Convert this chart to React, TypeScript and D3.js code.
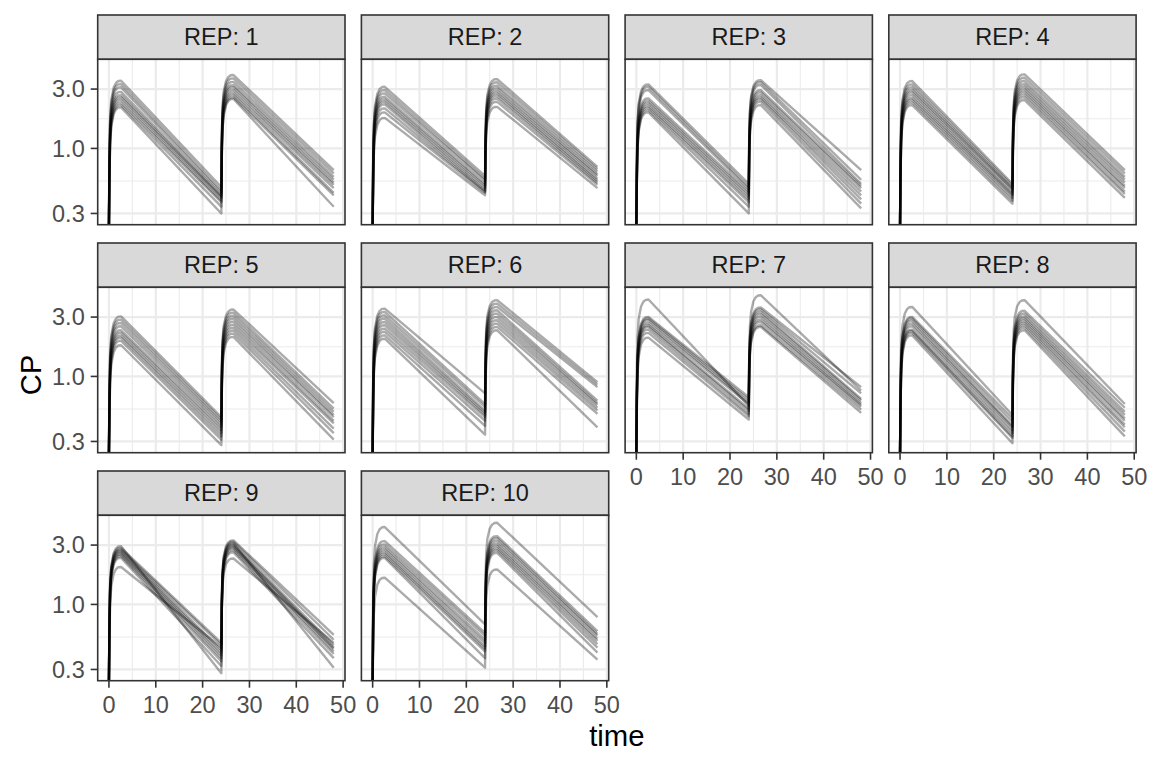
import * as d3 from "d3";

// replicate panels
const reps = [1, 2, 3, 4, 5, 6, 7, 8, 9, 10];

// CP, one row per REP, one entry per individual
const peakDose1 = [
  [3.5, 3.29, 3.1, 2.85, 2.68, 2.57, 2.45, 2.33, 2.23, 2.14],
  [3.13, 2.94, 2.77, 2.6, 2.48, 2.37, 2.26, 2.1, 1.95, 1.76],
  [3.27, 3.13, 2.94, 2.52, 2.4, 2.3, 2.2, 2.12, 2.03, 1.95],
  [3.48, 3.27, 3.1, 2.94, 2.82, 2.68, 2.55, 2.45, 2.34, 2.23],
  [3.04, 2.86, 2.69, 2.53, 2.35, 2.24, 2.13, 2.04, 1.93, 1.78],
  [3.51, 3.3, 3.1, 2.92, 2.74, 2.58, 2.42, 2.28, 2.14, 2.01],
  [4.15, 3.01, 2.92, 2.83, 2.69, 2.58, 2.5, 2.38, 2.24, 2.05],
  [3.62, 3.01, 2.92, 2.8, 2.66, 2.53, 2.38, 2.32, 2.24, 2.14],
  [2.94, 2.85, 2.77, 2.72, 2.65, 2.59, 2.52, 2.45, 2.37, 2.0],
  [4.19, 3.23, 3.04, 2.89, 2.77, 2.65, 2.55, 2.45, 2.37, 1.64],
];
const troughDose1 = [
  [0.49, 0.46, 0.44, 0.42, 0.41, 0.4, 0.38, 0.37, 0.34, 0.3],
  [0.6, 0.57, 0.55, 0.52, 0.5, 0.48, 0.46, 0.45, 0.44, 0.42],
  [0.52, 0.49, 0.47, 0.45, 0.43, 0.41, 0.39, 0.37, 0.34, 0.3],
  [0.52, 0.5, 0.48, 0.47, 0.45, 0.43, 0.42, 0.4, 0.38, 0.36],
  [0.47, 0.45, 0.43, 0.41, 0.39, 0.37, 0.35, 0.33, 0.31, 0.28],
  [0.73, 0.6, 0.57, 0.53, 0.51, 0.49, 0.47, 0.44, 0.4, 0.34],
  [0.58, 0.68, 0.65, 0.62, 0.6, 0.55, 0.53, 0.5, 0.48, 0.45],
  [0.49, 0.46, 0.43, 0.4, 0.39, 0.37, 0.35, 0.33, 0.32, 0.29],
  [0.28, 0.49, 0.47, 0.43, 0.41, 0.39, 0.37, 0.35, 0.32, 0.45],
  [0.69, 0.59, 0.56, 0.52, 0.49, 0.46, 0.44, 0.42, 0.37, 0.31],
];
const peakDose2 = [
  [3.89, 3.66, 3.43, 3.23, 3.1, 2.94, 2.8, 2.68, 2.57, 2.5],
  [3.61, 3.4, 3.19, 3.04, 2.89, 2.77, 2.65, 2.52, 2.37, 2.16],
  [3.54, 3.4, 3.23, 2.94, 2.82, 2.68, 2.57, 2.48, 2.37, 2.23],
  [3.94, 3.7, 3.48, 3.29, 3.13, 2.98, 2.85, 2.72, 2.59, 2.45],
  [3.45, 3.26, 3.08, 2.92, 2.76, 2.61, 2.47, 2.34, 2.21, 2.08],
  [4.1, 3.85, 3.62, 3.4, 3.2, 3.01, 2.83, 2.66, 2.5, 2.35],
  [4.49, 3.58, 3.45, 3.3, 3.16, 3.01, 2.86, 2.74, 2.58, 2.5],
  [4.1, 3.37, 3.2, 3.04, 2.92, 2.8, 2.69, 2.58, 2.47, 2.35],
  [3.11, 3.27, 3.19, 3.04, 2.96, 2.89, 2.82, 2.72, 2.62, 2.34],
  [4.53, 3.54, 3.4, 3.23, 3.07, 2.94, 2.82, 2.72, 2.6, 1.91],
];
const valueAt48 = [
  [0.67, 0.63, 0.59, 0.56, 0.53, 0.51, 0.48, 0.44, 0.42, 0.34],
  [0.71, 0.68, 0.65, 0.62, 0.6, 0.57, 0.55, 0.53, 0.51, 0.48],
  [0.67, 0.56, 0.52, 0.5, 0.48, 0.45, 0.42, 0.39, 0.36, 0.33],
  [0.67, 0.63, 0.59, 0.56, 0.53, 0.5, 0.48, 0.45, 0.43, 0.4],
  [0.61, 0.55, 0.52, 0.49, 0.47, 0.44, 0.42, 0.38, 0.35, 0.31],
  [0.9, 0.86, 0.82, 0.64, 0.61, 0.59, 0.56, 0.53, 0.5, 0.39],
  [0.77, 0.82, 0.73, 0.66, 0.64, 0.61, 0.59, 0.57, 0.54, 0.51],
  [0.6, 0.56, 0.52, 0.49, 0.46, 0.44, 0.41, 0.39, 0.36, 0.33],
  [0.31, 0.57, 0.52, 0.47, 0.45, 0.44, 0.42, 0.4, 0.37, 0.49],
  [0.79, 0.61, 0.58, 0.56, 0.53, 0.51, 0.48, 0.45, 0.41, 0.36],
];

// dosing and the shape of the absorption rise after each dose
const doseTimes = [0, 24];
const endTime = 48;
const riseHours = [0, 0.1, 0.25, 0.5, 1, 1.5, 2, 2.6];
const riseShare = [0, 0.25, 0.5, 0.7, 0.88, 0.96, 0.995, 1];

const timeTicks = [0, 10, 20, 30, 40, 50];
const cpTicks = [0.3, 1, 3];
const cpTickLabels = ["0.3", "1.0", "3.0"];

const W = 1152;
const H = 768;
const nCol = 4;
const panelX0 = 97.7;
const colStep = 263.7;
const panelW = 247.3;
const stripY0 = 15;
const rowStep = 228;
const stripH = 44.3;
const panelH = 165.4;
const font = "'Liberation Sans', Arial, Helvetica, sans-serif";

function curvePoints(r: number, i: number): [number, number][] {
  const p1 = peakDose1[r][i];
  const t1 = troughDose1[r][i];
  const p2 = peakDose2[r][i];
  const pts: [number, number][] = riseHours.map((h, k) => [doseTimes[0] + h, p1 * riseShare[k]]);
  pts.push([doseTimes[1], t1]);
  riseHours.slice(1).forEach((h, k) => {
    pts.push([doseTimes[1] + h, t1 + (p2 - t1) * riseShare[k + 1]]);
  });
  pts.push([endTime, valueAt48[r][i]]);
  return pts;
}

export default function App() {
  const xPad = (endTime - doseTimes[0]) * 0.05;
  const x = d3.scaleLinear().domain([doseTimes[0] - xPad, endTime + xPad]).range([0, panelW]);

  const lows = [...troughDose1.flat(), ...valueAt48.flat()];
  const highs = [...peakDose1.flat(), ...peakDose2.flat()];
  const lo = Math.log10(d3.min(lows) as number);
  const hi = Math.log10(d3.max(highs) as number);
  const yPad = (hi - lo) * 0.05;
  const y = d3.scaleLog().domain([10 ** (lo - yPad), 10 ** (hi + yPad)]).range([panelH, 0]);

  const line = d3
    .line<[number, number]>()
    .x((d) => x(d[0]))
    .y((d) => (d[1] > 0 ? y(d[1]) : panelH));

  const xMinor = timeTicks.slice(1).map((t, k) => (t + timeTicks[k]) / 2);
  const yMinor = cpTicks.slice(1).map((t, k) => Math.sqrt(t * cpTicks[k]));

  const lastRight = panelX0 + (nCol - 1) * colStep + panelW;
  const nRows = Math.ceil(reps.length / nCol);
  const lastBottom = stripY0 + (nRows - 1) * rowStep + stripH + panelH;

  return (
    <svg
      width={W}
      height={H}
      style={{ position: "absolute", left: 0, top: 0, background: "white" }}
      fontFamily={font}
    >
      <defs>
        <clipPath id="panel-clip">
          <rect x={0} y={0} width={panelW} height={panelH} />
        </clipPath>
      </defs>
      {reps.map((rep, r) => {
        const col = r % nCol;
        const row = Math.floor(r / nCol);
        const left = panelX0 + col * colStep;
        const top = stripY0 + row * rowStep;
        const hasXAxis = r + nCol >= reps.length;
        const hasYAxis = col === 0;
        return (
          <g key={rep} transform={`translate(${left},${top})`}>
            <rect x={0} y={0} width={panelW} height={stripH} fill="#d9d9d9" stroke="#333333" strokeWidth={1.6} />
            <text
              x={panelW / 2}
              y={stripH / 2}
              dy="0.35em"
              textAnchor="middle"
              fontSize={23.5}
              fill="#1a1a1a"
            >
              {`REP: ${rep}`}
            </text>
            <g transform={`translate(0,${stripH})`}>
              <rect x={0} y={0} width={panelW} height={panelH} fill="white" />
              {yMinor.map((v) => (
                <line key={`ym${v}`} x1={0} x2={panelW} y1={y(v)} y2={y(v)} stroke="#ebebeb" strokeWidth={1.1} />
              ))}
              {xMinor.map((t) => (
                <line key={`xm${t}`} x1={x(t)} x2={x(t)} y1={0} y2={panelH} stroke="#ebebeb" strokeWidth={1.1} />
              ))}
              {cpTicks.map((v) => (
                <line key={`yM${v}`} x1={0} x2={panelW} y1={y(v)} y2={y(v)} stroke="#ebebeb" strokeWidth={2.2} />
              ))}
              {timeTicks.map((t) => (
                <line key={`xM${t}`} x1={x(t)} x2={x(t)} y1={0} y2={panelH} stroke="#ebebeb" strokeWidth={2.2} />
              ))}
              <g clipPath="url(#panel-clip)">
                {peakDose1[r].map((_, i) => (
                  <path
                    key={i}
                    d={line(curvePoints(r, i)) || ""}
                    fill="none"
                    stroke="black"
                    strokeOpacity={0.33}
                    strokeWidth={2.4}
                    strokeLinejoin="round"
                  />
                ))}
              </g>
              <rect x={0} y={0} width={panelW} height={panelH} fill="none" stroke="#333333" strokeWidth={1.6} />
              {hasYAxis &&
                cpTicks.map((v, k) => (
                  <g key={`yt${v}`} transform={`translate(0,${y(v)})`}>
                    <line x1={-7} x2={0} stroke="#333333" strokeWidth={1.6} />
                    <text x={-13} dy="0.35em" textAnchor="end" fontSize={23.5} fill="#4d4d4d">
                      {cpTickLabels[k]}
                    </text>
                  </g>
                ))}
              {hasXAxis &&
                timeTicks.map((t) => (
                  <g key={`xt${t}`} transform={`translate(${x(t)},${panelH})`}>
                    <line y1={0} y2={7} stroke="#333333" strokeWidth={1.6} />
                    <text y={32} textAnchor="middle" fontSize={23.5} fill="#4d4d4d">
                      {t}
                    </text>
                  </g>
                ))}
            </g>
          </g>
        );
      })}
      <text x={(panelX0 + lastRight) / 2} y={746} textAnchor="middle" fontSize={29.3} fill="black">
        time
      </text>
      <text
        transform={`translate(41,${(stripY0 + stripH + lastBottom) / 2 + 5})rotate(-90)`}
        textAnchor="middle"
        fontSize={29.3}
        fill="black"
      >
        CP
      </text>
    </svg>
  );
}
